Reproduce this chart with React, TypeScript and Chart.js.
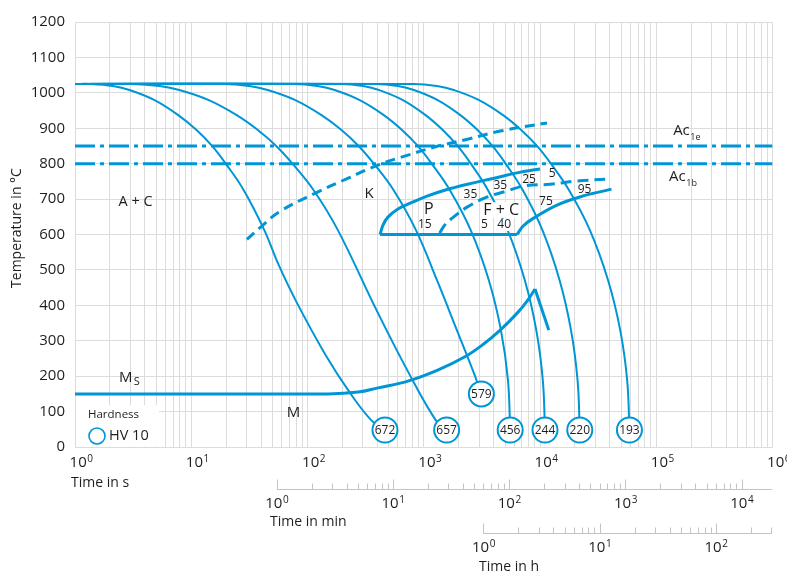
import React, { useEffect, useRef } from 'react';
import { Chart, registerables } from 'chart.js';

Chart.register(...registerables);

const BLUE = '#0096d6';
const TEXT = '#1e1e1e';
const GRID = '#dcdcdc';
const AXIS2 = '#c4c4c4';
const FONT = '"Open Sans", "Noto Sans", sans-serif';

// ---- cooling curves (time in s, temperature in °C) ----
const c1Time = [1, 1.34, 2.12, 2.94, 4.79, 7.73, 11.1, 15.1, 19.8, 28.3, 42.4, 56.5, 80.5, 143, 233, 353, 464];
const c1Temp = [1025, 1025, 1019, 1008, 980, 937, 895, 850, 800, 725, 613, 514, 409, 260, 152, 76, 48];
const c2Time = [1, 3.13, 5.35, 7.88, 14.0, 24.6, 37.4, 53.8, 74.3, 113, 182, 404, 774, 1267, 1574];
const c2Temp = [1025, 1025, 1019, 1008, 980, 937, 895, 850, 800, 725, 613, 378, 198, 76, 48];
const c3Time = [1, 19.1, 31.6, 45.4, 77.8, 132, 196, 275, 372, 551, 855, 1318, 1954, 2675, 3131];
const c3Temp = [1025, 1025, 1019, 1008, 980, 937, 895, 850, 800, 725, 613, 466, 325, 212, 150];
const c4Time = [1, 77.4, 122, 171, 279, 453, 650, 889, 1170, 1679, 2529, 3630, 4612, 5300, 5540];
const c5Time = [1, 195, 301, 412, 656, 1036, 1457, 1955, 2541, 3573, 5260, 7400, 9290, 10570, 11040];
const c6Time = [1, 389, 600, 822, 1307, 2064, 2901, 3898, 5060, 7120, 10470, 14740, 18480, 21040, 21980];
const c7Time = [1, 822, 1300, 1812, 2963, 4810, 6890, 9420, 12410, 17790, 26800, 38500, 48980, 56200, 58800];
const slowTemp = [1025, 1025, 1019, 1008, 980, 937, 895, 850, 800, 725, 613, 471, 330, 189, 48];

// ---- hardness HV 10 at curve ends ----
const hvTime = [464, 1574, 3131, 5540, 11040, 21980, 58800];
const hvTemp = [48, 48, 150, 48, 48, 48, 48];
const hvLabel = ['672', '657', '579', '456', '244', '220', '193'];

// ---- martensite start ----
const msTime = [1, 151, 273, 404, 730, 1318, 2240, 3192, 4551, 6360, 7740, 9060];
const msTemp = [150, 150, 155, 167, 186, 217, 254, 288, 330, 378, 412, 446];
const msHookTime = [9060, 11900];
const msHookTemp = [446, 330];

// ---- carbide precipitation (K), dashed ----
const kTime = [30.1, 39.6, 56.5, 117, 224, 404, 730, 1240, 2377, 4551, 11500];
const kTemp = [586, 621, 663, 717, 759, 796, 824, 847, 869, 892, 915];

// ---- pearlite / ferrite region ----
const pStartTime = [421, 447, 492, 600, 774, 1082, 1512, 2377, 4048, 6360, 10000];
const pStartTemp = [600, 627, 649, 672, 689, 709, 725, 742, 759, 774, 785];
const pBaseTime = [421, 6360];
const pBaseTemp = [600, 600];
const pEndTime = [6360, 7160, 8890, 14000, 22000, 41200];
const pEndTemp = [600, 624, 647, 683, 706, 728];
const fcTime = [1370, 1542, 1770, 2377, 3522, 5230, 7300, 12200, 20700, 41200];
const fcTemp = [604, 630, 647, 678, 706, 723, 737, 742, 751, 757];

// ---- Ac temperatures ----
const acTemps = [850, 800];
const acSpan = [1, 1e6];

// ---- axis ticks ----
const yTicks = [0, 100, 200, 300, 400, 500, 600, 700, 800, 900, 1000, 1100, 1200];
const secExp = [0, 1, 2, 3, 4, 5, 6];
const minExp = [0, 1, 2, 3, 4];
const hourExp = [0, 1, 2];

const zip = (xs: number[], ys: number[]) => xs.map((x, i) => ({ x, y: ys[i] }));

const xGrid: number[] = [];
for (let e = 0; e < 6; e++) for (let d = 1; d <= 9; d++) xGrid.push(d * Math.pow(10, e));
xGrid.push(1e6);

type Lbl = { s: string; t: number; T: number; size: number; knock?: boolean };
const labels: Lbl[] = [
  { s: 'A + C', t: 3.32, T: 692, size: 14.5 },
  { s: 'K', t: 339, T: 714, size: 15 },
  { s: 'P', t: 1104, T: 672, size: 16 },
  { s: 'F + C', t: 4640, T: 669, size: 16, knock: true },
  { s: '15', t: 1020, T: 627, size: 12 },
  { s: '5', t: 3320, T: 627, size: 12 },
  { s: '40', t: 4920, T: 627, size: 12, knock: true },
  { s: '35', t: 2520, T: 714, size: 12 },
  { s: '35', t: 4550, T: 737, size: 12 },
  { s: '25', t: 8050, T: 754, size: 12 },
  { s: '5', t: 12700, T: 771, size: 12 },
  { s: '95', t: 24200, T: 728, size: 12 },
  { s: '75', t: 11250, T: 692, size: 12 },
  { s: 'M', t: 75.9, T: 96, size: 15 },
];

function drawPow(ctx: CanvasRenderingContext2D, cx: number, cy: number, exp: string) {
  ctx.font = `15px ${FONT}`;
  const w1 = ctx.measureText('10').width;
  ctx.font = `10px ${FONT}`;
  const w2 = ctx.measureText(exp).width;
  const x0 = cx - (w1 + w2) / 2;
  ctx.textAlign = 'left';
  ctx.textBaseline = 'middle';
  ctx.font = `15px ${FONT}`;
  ctx.fillText('10', x0, cy);
  ctx.font = `10px ${FONT}`;
  ctx.fillText(exp, x0 + w1 + 0.5, cy - 4);
}

function text(ctx: CanvasRenderingContext2D, s: string, x: number, y: number, size: number, align: CanvasTextAlign = 'center') {
  ctx.font = `${size}px ${FONT}`;
  ctx.textAlign = align;
  ctx.textBaseline = 'middle';
  ctx.fillText(s, x, y);
}

const overlay = {
  id: 'overlay',
  beforeDatasetsDraw(chart: any) {
    const ctx = chart.ctx as CanvasRenderingContext2D;
    ctx.save();
    ctx.fillStyle = '#ffffff';
    ctx.fillRect(76, 405, 83, 41.5);
    ctx.restore();
  },
  afterDatasetsDraw(chart: any) {
    const ctx = chart.ctx as CanvasRenderingContext2D;
    const xs = chart.scales.x;
    const ys = chart.scales.y;
    ctx.save();
    ctx.fillStyle = TEXT;
    hvLabel.forEach((s, i) => {
      text(ctx, s, xs.getPixelForValue(hvTime[i]), ys.getPixelForValue(hvTemp[i]) + 0.5, 12);
    });
    labels.forEach((l) => {
      const x = xs.getPixelForValue(l.t);
      const y = ys.getPixelForValue(l.T);
      if (l.knock) {
        ctx.font = `${l.size}px ${FONT}`;
        const w = ctx.measureText(l.s).width;
        const h = l.size * 0.85;
        ctx.fillStyle = '#ffffff';
        ctx.fillRect(x - w / 2 - 1, y - h / 2 - 1, w + 2, h + 2);
        ctx.fillStyle = TEXT;
      }
      text(ctx, l.s, x, y, l.size);
    });
    const msx = xs.getPixelForValue(2.73);
    const msy = ys.getPixelForValue(195);
    text(ctx, 'M', msx, msy, 15);
    text(ctx, 'S', msx + 8, msy + 4, 11, 'left');
    const drawAc = (t: number, T: number, sub: string) => {
      const x = xs.getPixelForValue(t);
      const y = ys.getPixelForValue(T);
      ctx.font = `15px ${FONT}`;
      const w = ctx.measureText('Ac').width;
      text(ctx, 'Ac', x, y, 15, 'left');
      text(ctx, sub, x + w + 0.5, y + 6, 9, 'left');
    };
    drawAc(139700, 892, '1e');
    drawAc(129000, 762, '1b');
    text(ctx, 'Hardness', 88, 415, 11.5, 'left');
    ctx.beginPath();
    ctx.arc(97, 436, 8, 0, Math.PI * 2);
    ctx.strokeStyle = BLUE;
    ctx.lineWidth = 1.6;
    ctx.stroke();
    text(ctx, 'HV 10', 109, 436, 14.5, 'left');
    ctx.restore();
  },
  afterDraw(chart: any) {
    const ctx = chart.ctx as CanvasRenderingContext2D;
    const xs = chart.scales.x;
    const px = (s: number) => xs.getPixelForValue(s);
    ctx.save();
    ctx.fillStyle = TEXT;
    ctx.save();
    ctx.translate(17, 228);
    ctx.rotate(-Math.PI / 2);
    text(ctx, 'Temperature in °C', 0, 0, 14);
    ctx.restore();
    secExp.forEach((e) => drawPow(ctx, px(Math.pow(10, e)) + 6, 463, String(e)));
    text(ctx, 'Time in s', 71, 483, 14, 'left');

    const drawAxis = (unit: number, off: number, y: number, exps: number[], labelY: number, title: string, titleX: number, titleY: number) => {
      const map = (v: number) => px(v * unit) + off;
      const x0 = map(1);
      const xEnd = 772;
      ctx.strokeStyle = AXIS2;
      ctx.lineWidth = 1;
      ctx.beginPath();
      ctx.moveTo(x0, y + 0.5);
      ctx.lineTo(xEnd, y + 0.5);
      for (let e = 0; e <= exps[exps.length - 1] + 1; e++) {
        for (let d = 1; d <= 9; d++) {
          const x = Math.round(map(d * Math.pow(10, e))) + 0.5;
          if (x > xEnd) continue;
          const len = d === 1 ? 10 : 6;
          ctx.moveTo(x, y + 0.5);
          ctx.lineTo(x, y + 0.5 - len);
        }
      }
      ctx.stroke();
      exps.forEach((e) => drawPow(ctx, map(Math.pow(10, e)), labelY, String(e)));
      text(ctx, title, titleX, titleY, 14, 'left');
    };
    drawAxis(60, -5, 489, minExp, 504, 'Time in min', 270, 522);
    drawAxis(3600, -5, 533, hourExp, 548, 'Time in h', 479, 567);
    ctx.restore();
  },
};

const line = (data: { x: number; y: number }[], width: number, dash?: number[], tension = 0.4) => ({
  data,
  showLine: true,
  borderColor: BLUE,
  borderWidth: width,
  borderDash: dash || [],
  pointRadius: 0,
  pointHoverRadius: 0,
  fill: false,
  tension,
  cubicInterpolationMode: 'default',
  borderCapStyle: 'butt' as const,
});

export default function App() {
  const ref = useRef<HTMLCanvasElement | null>(null);
  useEffect(() => {
    if (!ref.current) return;
    const datasets: any[] = [
      {
        data: zip(hvTime, hvTemp),
        showLine: false,
        pointRadius: 12.5,
        pointHoverRadius: 12.5,
        pointBackgroundColor: '#ffffff',
        pointBorderColor: BLUE,
        pointBorderWidth: 2,
        order: -1,
      },
      line(zip(c1Time, c1Temp), 2),
      line(zip(c2Time, c2Temp), 2),
      line(zip(c3Time, c3Temp), 2),
      line(zip(c4Time, slowTemp), 2),
      line(zip(c5Time, slowTemp), 2),
      line(zip(c6Time, slowTemp), 2),
      line(zip(c7Time, slowTemp), 2),
      line(zip(msTime, msTemp), 3),
      line(zip(msHookTime, msHookTemp), 3, undefined, 0),
      line(zip(kTime, kTemp), 3, [10, 6]),
      line(zip(pStartTime, pStartTemp), 3),
      line(zip(pBaseTime, pBaseTemp), 3, undefined, 0),
      line(zip(pEndTime, pEndTemp), 3),
      line(zip(fcTime, fcTemp), 3, [11, 6]),
      ...acTemps.map((T) => line(zip(acSpan, [T, T]), 3, [20, 5, 4, 5], 0)),
    ];
    const chart = new Chart(ref.current, {
      type: 'scatter',
      data: { datasets },
      options: {
        animation: false,
        responsive: false,
        events: [],
        layout: { padding: { top: 22, right: 10, left: 0, bottom: 0 } },
        plugins: { legend: { display: false }, tooltip: { enabled: false } },
        scales: {
          x: {
            type: 'logarithmic',
            min: 1,
            max: 1e6,
            position: 'bottom',
            afterBuildTicks: (s: any) => {
              s.ticks = xGrid.map((v) => ({ value: v }));
            },
            afterFit: (s: any) => {
              s.height = 126;
            },
            ticks: { display: false },
            grid: { color: GRID, drawTicks: false, lineWidth: 1 },
            border: { display: false },
          },
          y: {
            type: 'linear',
            min: 0,
            max: 1200,
            afterBuildTicks: (s: any) => {
              s.ticks = yTicks.map((v) => ({ value: v }));
            },
            afterFit: (s: any) => {
              s.width = 75;
            },
            ticks: {
              padding: 10,
              color: TEXT,
              font: { family: FONT, size: 15 },
              callback: (v: any) => String(v),
            },
            grid: { color: GRID, drawTicks: false, lineWidth: 1 },
            border: { display: false },
          },
        },
      } as any,
      plugins: [overlay],
    });
    return () => chart.destroy();
  }, []);
  return (
    <div style={{ position: 'fixed', left: 0, top: 0, width: 787, height: 573, background: '#fff' }}>
      <canvas ref={ref} width={787} height={573} style={{ display: 'block', width: 787, height: 573 }} />
    </div>
  );
}
